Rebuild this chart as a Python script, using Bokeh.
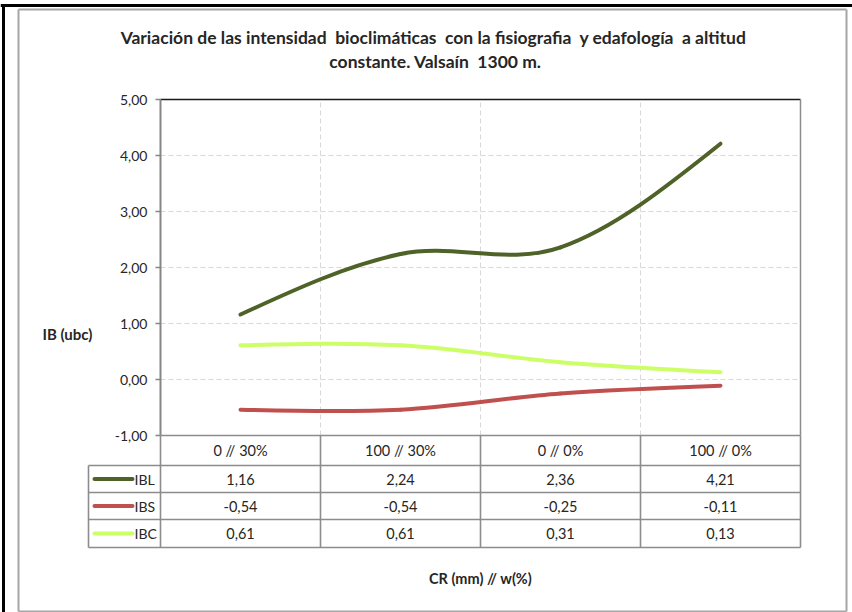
import numpy as np
from bokeh.plotting import figure
from bokeh.models import FixedTicker, CustomJSTickFormatter, LinearAxis, ColumnDataSource
from bokeh.core.properties import value
from bokeh.embed import file_html
from bokeh.resources import INLINE

# ---------------- data ----------------
CATEGORIES = ["0 // 30%", "100 // 30%", "0 // 0%", "100 // 0%"]
SERIES = ["IBL", "IBS", "IBC"]
IBL = [1.16, 2.24, 2.36, 4.21]
IBS = [-0.54, -0.54, -0.25, -0.11]
IBC = [0.61, 0.61, 0.31, 0.13]
Y_TICKS = [-1, 0, 1, 2, 3, 4, 5]
TITLE_1 = "Variación de las intensidad  bioclimáticas  con la fisiografia  y edafología  a altitud"
TITLE_2 = "constante. Valsaín  1300 m."
Y_LABEL = "IB (ubc)"
X_LABEL = "CR (mm) // w(%)"

COLORS = {"IBL": "#4F6228", "IBS": "#C0504D", "IBC": "#CCFF66"}
VALUES = {"IBL": IBL, "IBS": IBS, "IBC": IBC}

# ---------------- layout constants (pixels) ----------------
W, H = 852, 612
PL, PR, PT, PB = 160, 800, 99, 435          # plot area edges
NCAT = len(CATEGORIES)
SX = (PR - PL) / NCAT                         # px per category
SY = (PB - PT) / (Y_TICKS[-1] - Y_TICKS[0])   # px per unit
FONT = value("Lato")
TXT = "#262626"
GRID = "#D9D9D9"
TGRAY = "#8C8C8C"


def X(px):
    return (px - PL) / SX


def Y(py):
    return Y_TICKS[-1] - (py - PT) / SY


def keep_spaces(s):
    return s.replace("  ", " \u00a0")


p = figure(width=W, height=H, x_range=(X(0), X(W)), y_range=(Y(H), Y(0)),
           output_backend="svg", toolbar_location=None,
           x_axis_location=None, y_axis_location=None,
           min_border=0, min_border_left=0, min_border_right=0,
           min_border_top=0, min_border_bottom=0)
p.outline_line_color = None
p.background_fill_color = "white"
p.border_fill_color = "white"
p.xgrid.visible = False
p.ygrid.visible = False

# outer frames
p.segment(x0=[X(0)], y0=[Y(5)], x1=[X(W)], y1=[Y(5)], line_color="black", line_width=3)
p.segment(x0=[X(3)], y0=[Y(5)], x1=[X(3)], y1=[Y(H)], line_color="black", line_width=3)
bx = [18, 846]
by = [9, 611]
p.segment(x0=[X(bx[0]), X(bx[0]), X(bx[1]), X(bx[0])],
          y0=[Y(by[0]), Y(by[1]), Y(by[0]), Y(by[0])],
          x1=[X(bx[1]), X(bx[1]), X(bx[1]), X(bx[0])],
          y1=[Y(by[0]), Y(by[1]), Y(by[1]), Y(by[1])],
          line_color="#A6A6A6", line_width=2)

# gridlines (dashed)
gy = Y_TICKS[1:-1]
p.segment(x0=[0] * len(gy), y0=gy, x1=[NCAT] * len(gy), y1=gy,
          line_color=GRID, line_width=1, line_dash="5 3")
gx = list(range(1, NCAT))
p.segment(x0=gx, y0=[Y_TICKS[0]] * len(gx), x1=gx, y1=[Y_TICKS[-1]] * len(gx),
          line_color=GRID, line_width=1, line_dash="5 3")

# plot area top / right borders
p.segment(x0=[0], y0=[Y_TICKS[-1]], x1=[NCAT], y1=[Y_TICKS[-1]], line_color="#1a1a1a", line_width=1.5)
p.segment(x0=[NCAT], y0=[Y_TICKS[0]], x1=[NCAT], y1=[Y_TICKS[-1]], line_color=TGRAY, line_width=1.5)

# y axis at x = 0
ax = LinearAxis(fixed_location=0, bounds=(Y_TICKS[0], Y_TICKS[-1]))
ax.ticker = FixedTicker(ticks=Y_TICKS)
ax.formatter = CustomJSTickFormatter(code="return tick.toFixed(2).replace('.', ',')")
ax.axis_line_color = "#868686"
ax.axis_line_width = 2
ax.major_tick_line_color = "#868686"
ax.major_tick_line_width = 1.5
ax.major_tick_out = 5
ax.major_tick_in = 0
ax.minor_tick_line_color = None
ax.major_label_text_font = "Lato"
ax.major_label_text_font_size = "14px"
ax.major_label_text_color = TXT
ax.major_label_standoff = 8
p.add_layout(ax, "left")

# smoothed lines (Excel-like smoothing via Bezier segments)
xc = np.arange(NCAT) + 0.5


def tangents(y):
    y = np.asarray(y, dtype=float)
    m = np.zeros_like(y)
    m[1:-1] = (y[2:] - y[:-2]) / 2.0
    m[0] = 1.5 * (y[1] - y[0]) - 0.5 * m[1]
    m[-1] = 1.5 * (y[-1] - y[-2]) - 0.5 * m[-2]
    return y, m


for name in SERIES:
    y, m = tangents(VALUES[name])
    src = ColumnDataSource(dict(
        x0=xc[:-1], y0=y[:-1], x1=xc[1:], y1=y[1:],
        cx0=xc[:-1] + 1 / 3, cy0=y[:-1] + m[:-1] / 3,
        cx1=xc[1:] - 1 / 3, cy1=y[1:] - m[1:] / 3))
    p.bezier(x0="x0", y0="y0", x1="x1", y1="y1", cx0="cx0", cy0="cy0", cx1="cx1", cy1="cy1",
             source=src, line_color=COLORS[name], line_width=4, line_cap="round")

# ---------------- data table ----------------
ROWS_PX = [435, 465, 492, 519, 547]   # row boundaries (header + 3 series)
LAB_L = 88                             # label column left edge
ry = [Y(v) for v in ROWS_PX]
lx = X(LAB_L)
hx0 = [0.0] + [lx] * (len(ROWS_PX) - 1)
hx1 = [float(NCAT)] * len(ROWS_PX)
p.segment(x0=hx0, y0=ry, x1=hx1, y1=ry, line_color=TGRAY, line_width=1.6)
vx = [lx] + [float(i) for i in range(NCAT + 1)]
vy0 = [ry[-1]] * (NCAT + 2)
vy1 = [ry[1]] + [ry[0]] * (NCAT + 1)
p.segment(x0=vx, y0=vy0, x1=vx, y1=vy1, line_color=TGRAY, line_width=1.6)

p.text(x=list(xc), y=[(ry[0] + ry[1]) / 2] * NCAT, text=[keep_spaces(c) for c in CATEGORIES],
       text_align="center", text_baseline="middle", text_font=FONT, text_font_size="14.5px",
       text_color=TXT)

for r, name in enumerate(SERIES):
    yy = (ry[r + 1] + ry[r + 2]) / 2
    vals = ["{:.2f}".format(v).replace(".", ",") for v in VALUES[name]]
    p.text(x=list(xc), y=[yy] * NCAT, text=vals, text_align="center",
           text_baseline="middle", text_font=FONT, text_font_size="14.5px", text_color=TXT)
    p.segment(x0=[X(94)], y0=[yy], x1=[X(132)], y1=[yy],
              line_color=COLORS[name], line_width=4, line_cap="round")
    p.text(x=[X(134)], y=[yy], text=[name], text_align="left",
           text_baseline="middle", text_font=FONT, text_font_size="14px", text_color=TXT)

# ---------------- titles ----------------
p.text(x=[X(433)], y=[Y(37)], text=[keep_spaces(TITLE_1)], text_align="center",
       text_baseline="middle", text_font=FONT, text_font_style="bold",
       text_font_size="17.5px", text_color=TXT)
p.text(x=[X(435)], y=[Y(61)], text=[keep_spaces(TITLE_2)], text_align="center",
       text_baseline="middle", text_font=FONT, text_font_style="bold",
       text_font_size="17.5px", text_color=TXT)
p.text(x=[X(67)], y=[Y(333)], text=[Y_LABEL], text_align="center", text_baseline="middle",
       text_font=FONT, text_font_style="bold", text_font_size="15px", text_color=TXT)
p.text(x=[X(480)], y=[Y(578)], text=[X_LABEL], text_align="center", text_baseline="middle",
       text_font=FONT, text_font_style="bold", text_font_size="14.5px", text_color=TXT)

open("out.html", "w").write(file_html(p, INLINE))
